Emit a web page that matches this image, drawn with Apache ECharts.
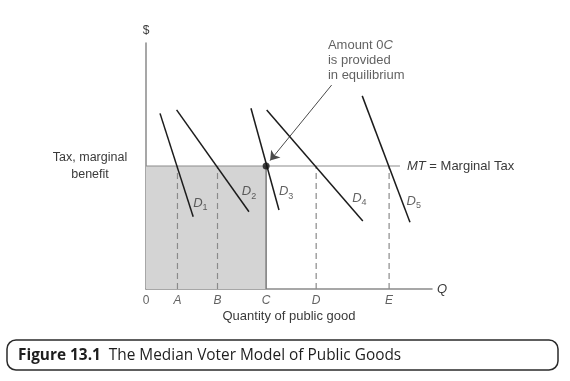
<!DOCTYPE html>
<html>
<head>
<meta charset="utf-8">
<script src="https://cdn.jsdelivr.net/npm/echarts@6/dist/echarts.min.js"></script>
<style>
html,body{margin:0;padding:0;background:#fff;}
#chart{width:570px;height:381px;}
</style>
</head>
<body>
<div id="chart"></div>
<script>
// ---- data (abstract diagram units: quantity 0..100, $ 0..100) ----
const MT = 50;                                   // marginal tax level
const qLabels = ['0', 'A', 'B', 'C', 'D', 'E'];
const qValues = [0, 11, 25, 42, 59.5, 85];
const dashedAt = ['A', 'B', 'D', 'E'];
const medianLabel = 'C';
const demandNames = ['1', '2', '3', '4', '5'];
const demandStart = [[4.9, 71.4], [10.7, 72.8], [36.7, 73.5], [42.2, 72.8], [75.6, 78.5]];
const demandEnd = [[16.5, 29.4], [36, 31.4], [46.5, 32.1], [75.8, 27.6], [92.3, 27.1]];
const demandLabelAt = [[19, 35], [36, 39.6], [49, 39.6], [74.6, 37], [93.6, 35.6]];
const mtLineEnd = 88.8;
const arrowFrom = [64.9, 82.9];
const arrowTo = [43.4, 52.2];
const noteAt = [63.6, 93.1];

const qOf = name => qValues[qLabels.indexOf(name)];
const C = qOf(medianLabel);

const FONT = '"Liberation Sans", Arial, sans-serif';
const CAP_FONT = '"Open Sans", "Noto Sans", sans-serif';
const TXT = '#3a3a3a';
const series = [];

// shaded area 0C x MT
series.push({
  type: 'line', data: [[0, MT], [C, MT]], symbol: 'none',
  lineStyle: { width: 0 }, areaStyle: { color: '#d4d4d4', opacity: 1, origin: 0 },
  z: 1, silent: true
});
// border at C
series.push({
  type: 'line', data: [[C, 0], [C, MT]], symbol: 'none',
  lineStyle: { color: '#7a7a7a', width: 1.5 }, z: 3, silent: true
});
// dashed verticals
dashedAt.forEach(n => {
  series.push({
    type: 'line', data: [[qOf(n), 0], [qOf(n), MT]], symbol: 'none',
    lineStyle: { color: '#8a8a8a', width: 1.2, type: [6, 4] }, z: 2, silent: true
  });
});
// MT line
series.push({
  type: 'line', data: [[0, MT], [mtLineEnd, MT]], symbol: 'none',
  lineStyle: { color: '#8c8c8c', width: 1.2 }, z: 3, silent: true,
  endLabel: {
    show: true, distance: 7, color: TXT, fontFamily: FONT, fontSize: 13,
    formatter: '{i|MT} = Marginal Tax',
    rich: { i: { fontStyle: 'italic', fontFamily: FONT, fontSize: 13, color: TXT } }
  }
});
// annotation arrow
series.push({
  type: 'line', data: [], z: 8, silent: true,
  markLine: {
    silent: true, symbol: ['none', 'arrow'], symbolSize: 9,
    lineStyle: { color: '#4a4a4a', width: 1, type: 'solid' },
    itemStyle: { color: '#4a4a4a' },
    label: { show: false },
    data: [[{ coord: arrowFrom }, { coord: arrowTo }]]
  }
});
// demand curves
demandStart.forEach((s, i) => {
  series.push({
    type: 'line', data: [s, demandEnd[i]], symbol: 'none',
    lineStyle: { color: '#1c1c1c', width: 1.5 }, z: 5, silent: true
  });
});
// demand labels
series.push({
  type: 'scatter', symbolSize: 0, z: 6, silent: true,
  data: demandLabelAt.map((p, i) => ({ value: p, name: demandNames[i] })),
  label: {
    show: true, position: 'inside', color: TXT,
    formatter: p => '{d|D}{s|' + p.name + '}',
    rich: {
      d: { fontStyle: 'italic', fontFamily: FONT, fontSize: 13, color: TXT, lineHeight: 18, verticalAlign: 'middle' },
      s: { fontFamily: FONT, fontSize: 9, color: TXT, lineHeight: 10, verticalAlign: 'bottom' }
    }
  }
});
// equilibrium dot
series.push({
  type: 'scatter', data: [[C, MT]], symbolSize: 7, z: 7, silent: true,
  itemStyle: { color: '#111' }
});
// quantity tick labels
series.push({
  type: 'scatter', symbolSize: 0, z: 6, silent: true,
  data: qValues.map((v, i) => ({ value: [v, 0], name: qLabels[i] })),
  label: {
    show: true, position: 'bottom', distance: 6, color: TXT,
    fontFamily: FONT, fontSize: 12,
    formatter: p => p.name === '0' ? '{n|0}' : '{i|' + p.name + '}',
    rich: {
      n: { fontFamily: FONT, fontSize: 12, color: TXT },
      i: { fontFamily: FONT, fontSize: 12, fontStyle: 'italic', color: TXT }
    }
  }
});
// note
series.push({
  type: 'scatter', symbolSize: 0, z: 6, silent: true,
  data: [noteAt],
  label: {
    show: true, position: 'inside', align: 'left', verticalAlign: 'middle',
    color: TXT, fontFamily: FONT, fontSize: 13, lineHeight: 15,
    formatter: 'Amount 0{i|C}\nis provided\nin equilibrium',
    rich: { i: { fontStyle: 'italic', fontFamily: FONT, fontSize: 13, color: TXT, lineHeight: 15 } }
  }
});

const axisCommon = {
  type: 'value', min: 0, max: 100,
  splitLine: { show: false }, axisTick: { show: false }
};

const option = {
  animation: false,
  backgroundColor: '#fff',
  grid: { left: 146, right: 138, top: 43, bottom: 92 },
  xAxis: [
    Object.assign({}, axisCommon, {
      axisLine: { show: true, lineStyle: { color: '#8a8a8a', width: 1.5 } },
      axisLabel: { show: false },
      name: 'Quantity of public good', nameLocation: 'middle', nameGap: 21,
      nameTextStyle: { fontFamily: FONT, fontSize: 13, color: TXT }
    }),
    Object.assign({}, axisCommon, {
      position: 'bottom',
      axisLine: { show: false },
      axisLabel: { show: false },
      name: 'Q', nameLocation: 'end', nameGap: 5,
      nameTextStyle: { fontFamily: FONT, fontSize: 13, fontStyle: 'italic', color: TXT }
    })
  ],
  yAxis: Object.assign({}, axisCommon, {
    interval: 50,
    axisLine: { show: true, lineStyle: { color: '#8a8a8a', width: 1.5 } },
    axisLabel: {
      show: true, margin: 56, align: 'center', lineHeight: 17,
      fontFamily: FONT, fontSize: 12.5, color: TXT,
      formatter: v => v === MT ? 'Tax, marginal\nbenefit' : ''
    },
    name: '$', nameLocation: 'end', nameGap: 6,
    nameTextStyle: { fontFamily: FONT, fontSize: 12, color: TXT, align: 'center' }
  }),
  graphic: [
    {
      type: 'rect', shape: { x: 7, y: 340, width: 551, height: 30, r: 9 },
      style: { fill: '#fff', stroke: '#2a2a2a', lineWidth: 1.5 }, z: 10
    },
    {
      type: 'text', x: 18, y: 356, z: 11,
      style: {
        text: '{b|Figure 13.1}  The Median Voter Model of Public Goods',
        fontFamily: CAP_FONT, fontSize: 15.4, fill: '#1e1e1e',
        verticalAlign: 'middle',
        rich: { b: { fontWeight: 'bold', fontFamily: CAP_FONT, fontSize: 15.4, fill: '#1e1e1e' } }
      }
    }
  ],
  series: series
};

const chart = echarts.init(document.getElementById('chart'), null, { renderer: 'canvas' });
chart.setOption(option);
</script>
</body>
</html>
